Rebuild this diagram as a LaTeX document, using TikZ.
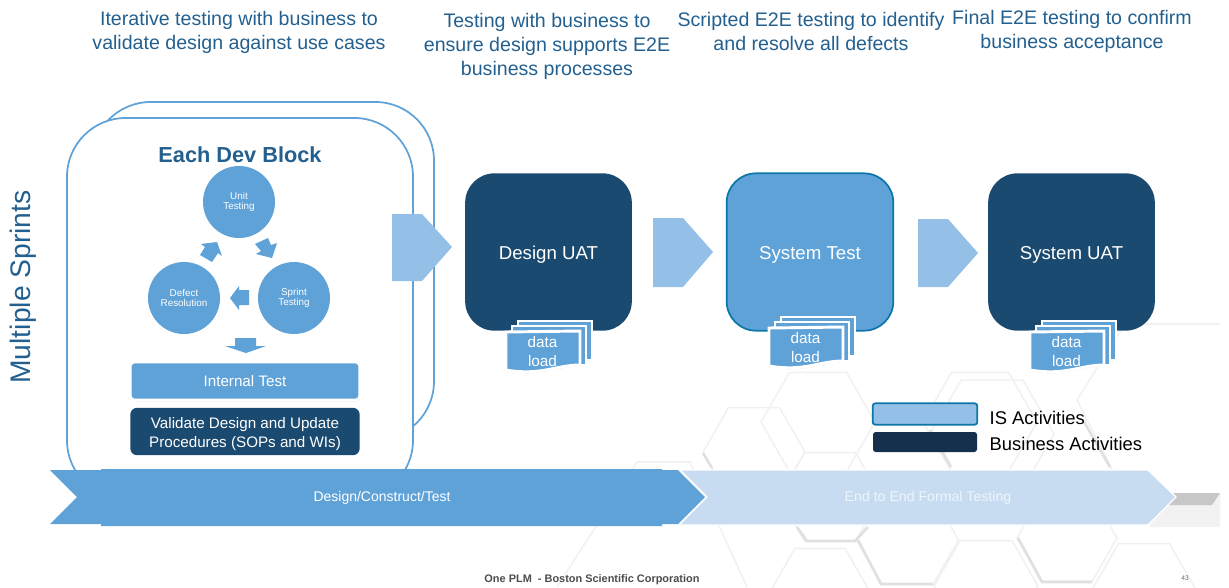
\documentclass[tikz,border=0pt]{standalone}
\usepackage{fontspec}
\setmainfont{Liberation Sans}
\usetikzlibrary{positioning, shadows}
\definecolor{myblue}{HTML}{5FA2D8}
\definecolor{mynavy}{HTML}{1B4A70}
\definecolor{mylight}{HTML}{94BFE6}
\definecolor{mypale}{HTML}{C7DCF1}
\definecolor{mytitle}{HTML}{23608F}
\definecolor{myteal}{HTML}{0B76A8}
\definecolor{mydark}{HTML}{14304D}
\definecolor{myhex}{HTML}{F1F1F1}
\definecolor{myhexdark}{HTML}{E0E0E0}

\begin{document}
\begin{tikzpicture}[
    x=0.75pt, y=-0.75pt,
    header/.style={align=center, text=mytitle, font=\fontsize{14.7}{18}\selectfont},
    dev_frame/.style={draw=myblue, line width=1.3pt, fill=white, rounded corners=44pt},
    cycle_node/.style={circle, fill=myblue, minimum size=54pt, inner sep=0pt, text=white, align=center, font=\fontsize{7.4}{7.5}\selectfont},
    stage_box/.style={rounded corners=22pt, minimum width=125pt, minimum height=118pt, text=white, text height=11.5pt, text depth=0pt, font=\fontsize{14}{16}\selectfont},
    next_arrow/.style={fill=mylight},
    small_arrow/.style={fill=myblue},
    page_sheet/.style={draw=white, line width=2.2pt, fill=myblue, drop shadow={shadow xshift=0.5pt, shadow yshift=-1pt, opacity=0.3}},
    hexline/.style={draw=myhex, line width=1.2pt},
    hexedge/.style={draw=myhexdark, line width=2pt},
    legend_text/.style={anchor=west, font=\fontsize{13.8}{16}\selectfont}
]

    % Page limits
    \path[use as bounding box] (0,0) rectangle (1229,587);

    % Background hexagons
    \foreach \hx/\hy/\hr in {754/452/51, 818/422/57, 830/497/51, 820/592/50, 907.5/540/51, 986/586/52, 1067/538/50, 1144/588/51, 992/434/62, 980/422/57} {
        \draw[hexline] (\hx-\hr,\hy) -- (\hx-\hr/2,\hy-\hr*0.87) -- (\hx+\hr/2,\hy-\hr*0.87)
            -- (\hx+\hr,\hy) -- (\hx+\hr/2,\hy+\hr*0.87) -- (\hx-\hr/2,\hy+\hr*0.87) -- cycle;
    }
    \draw[hexline] (1220,324) -- (1125,324) -- (1077,400) -- (1125,495);
    \draw[hexline] (637,462) -- (690,462) -- (747,587);
    \draw[hexline] (637,462) -- (557,587);
    \draw[hexedge] (703,453) -- (712,468);
    \draw[hexedge] (797,527) -- (807,541) -- (855,541) -- (868,527);
    \draw[hexedge] (858,540) -- (881,584) -- (933,584);
    \draw[hexedge] (1018,538) -- (1042,582) -- (1092,582);
    \draw[hexedge] (930,430) -- (951,467);
    \draw[hexedge] (1083,420) -- (1110,467);
    \fill[black!5] (1150,505) -- (1212,505) -- (1220,493) -- (1220,527) -- (1150,527) -- cycle;
    \fill[black!22] (1165,493) -- (1220,493) -- (1212,505) -- (1165,505) -- cycle;

    % Header texts
    \node[header] (head_dev) at (239,32) {Iterative testing with business to\\validate design against use cases};
    \node[header] (head_design) at (547,46) {Testing with business to\\ensure design supports E2E\\business processes};
    \node[header] (head_sys) at (811,31.5) {Scripted E2E testing to identify\\and resolve all defects};
    \node[header] (head_uat) at (1072,31.5) {Final E2E testing to confirm\\business acceptance};

    \node[rotate=90, text=mytitle, font=\fontsize{21.2}{24}\selectfont] (sprints) at (23,287) {Multiple Sprints};

    % Dev block frames
    \draw[dev_frame] (92,440) rectangle (434,102);
    \draw[dev_frame] (67,499) rectangle (413,118);

    \node[text=mytitle, font=\fontsize{16.3}{20}\bfseries\selectfont] (block_title) at (240,155) {Each Dev Block};

    % Test cycle
    \node[cycle_node] (unit) at (239,202) {Unit\\Testing};
    \node[cycle_node] (sprint) at (294,298) {Sprint\\Testing};
    \node[cycle_node] (defect) at (184,298) {Defect\\Resolution};

    % Small arrows between the circles
    \fill[small_arrow] (200,255) -- (205,247) -- (201,244) -- (217,242) -- (222,256) -- (218,253) -- (212,262) -- cycle;
    \fill[small_arrow] (255,244) -- (268,238) -- (271,245) -- (277,243) -- (272,258) -- (256,254) -- (261,251) -- cycle;
    \fill[small_arrow] (249,290) -- (249,305) -- (239,305) -- (239,310) -- (230,298) -- (239,286) -- (239,290) -- cycle;
    \fill[small_arrow] (235,338) -- (256,338) -- (256,346) -- (266,346) -- (246,353) -- (225,346) -- (235,346) -- cycle;

    % Internal test and validate boxes
    \node[fill=myblue, draw=white, line width=2pt, rounded corners=3pt, minimum width=172pt, minimum height=28.5pt, text=white,
        drop shadow={shadow xshift=0.4pt, shadow yshift=-1pt, opacity=0.3}, font=\fontsize{11.4}{13}\selectfont] (internal) at (245,381) {Internal Test};
    \node[fill=mynavy, rounded corners=5pt, minimum width=172pt, minimum height=35.5pt, text=white, align=center,
        font=\fontsize{11.4}{14.25}\selectfont] (validate) at (245,431.5) {\rule{0pt}{12pt}Validate Design and Update\\Procedures (SOPs and WIs)};

    % Stage boxes
    \node[stage_box, fill=mynavy] (design_uat) at (548.5,252) {Design UAT};
    \node[stage_box, fill=myblue, draw=myteal, line width=1.3pt] (system_test) at (810,252) {System Test};
    \node[stage_box, fill=mynavy] (system_uat) at (1071.5,252) {System UAT};

    % Arrows between stages
    \fill[next_arrow] (392,214) -- (422,214) -- (452,247) -- (422,281) -- (392,281) -- cycle;
    \fill[next_arrow] (653,218) -- (683,218) -- (713,252) -- (683,287) -- (653,287) -- cycle;
    \fill[next_arrow] (918,219) -- (948,219) -- (978,253) -- (948,287) -- (918,287) -- cycle;

    % Data load stacks
    \foreach \sname/\sx/\sy in {design/506/332, test/769/328, sysuat/1030/332} {
        \draw[page_sheet] (\sx+12,\sy-11) rectangle (\sx+86,\sy+28);
        \draw[page_sheet] (\sx+6,\sy-6) rectangle (\sx+80,\sy+33);
        \draw[page_sheet] (\sx,\sy) -- (\sx+74,\sy-1) -- (\sx+74,\sy+33)
            .. controls (\sx+50,\sy+33) and (\sx+35,\sy+44) .. (\sx,\sy+38) -- cycle;
        \node[text=white, align=center, font=\fontsize{11.5}{14}\selectfont] (\sname_load) at (\sx+36.5,\sy+19.5) {data\\load};
    }

    % Legend
    \node[fill=mylight, draw=myteal, line width=1.3pt, rounded corners=2pt, minimum width=78.5pt, minimum height=16pt, inner sep=0pt] (legend_is) at (925,414) {};
    \node[fill=mydark, rounded corners=2pt, minimum width=78pt, minimum height=15pt, inner sep=0pt] (legend_bus) at (925,442) {};
    \node[legend_text] (legend_is_txt) at (985,418) {IS Activities};
    \node[legend_text] (legend_bus_txt) at (985,444) {Business Activities};

    % Phase banner
    \fill[mypale, draw=white, line width=1pt] (678,470) -- (1148,470) -- (1176,497) -- (1148,525) -- (678,525) -- cycle;
    \draw[white, line width=2pt, fill=myblue] (678,469) -- (706,497) -- (678,525) -- cycle;
    \fill[myblue] (50,470) -- (101,470) -- (101,469) -- (662,469) -- (662,470) -- (678,470) -- (705,497) -- (678,524)
        -- (662,524) -- (662,526) -- (101,526) -- (101,524) -- (50,524) -- (77,497) -- cycle;
    \node[text=white, font=\fontsize{10.5}{12}\selectfont] (phase_one) at (382,498) {Design/Construct/Test};
    \node[text=white!70!mypale, font=\fontsize{10.6}{12}\selectfont] (phase_two) at (928,498) {End to End Formal Testing};

    % Footer
    \node[text=black!70, font=\fontsize{8.2}{9}\bfseries\selectfont] (footer) at (592,580) {One PLM\ \ - Boston Scientific Corporation};
    \node[text=black!60, font=\fontsize{5}{6}\selectfont] (page_no) at (1185,578) {43};

\end{tikzpicture}
\end{document}
